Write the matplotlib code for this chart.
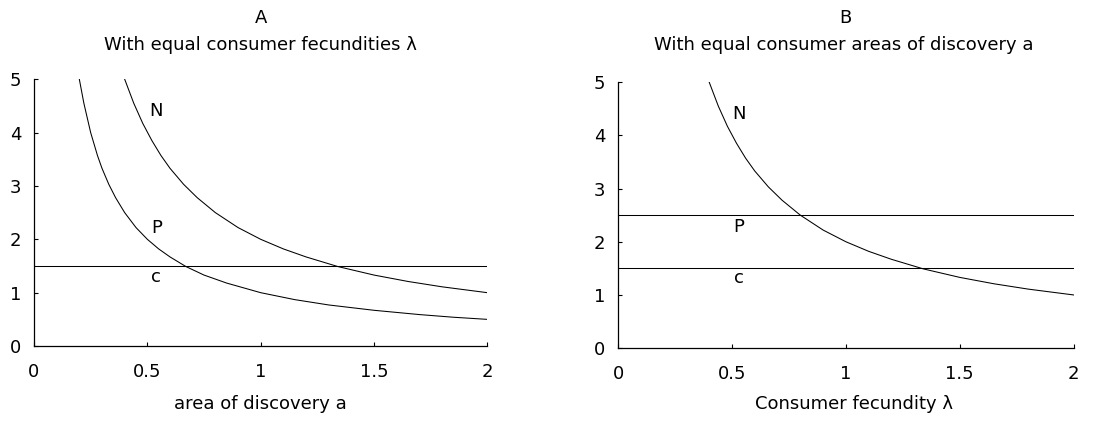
import matplotlib
matplotlib.use("Agg")
import matplotlib.pyplot as plt

plt.rcParams['font.family'] = ['DejaVu Sans']

# Panel A: values (x = area of discovery a)
a_vals = [0.20, 0.22, 0.25, 0.28, 0.30, 0.33, 0.36, 0.40, 0.45, 0.50, 0.55, 0.60, 0.67, 0.75,
          0.85, 1.00, 1.15, 1.30, 1.50, 1.70, 1.85, 2.00]
P_a = [5.00, 4.55, 4.00, 3.57, 3.33, 3.03, 2.78, 2.50, 2.22, 2.00, 1.82, 1.67, 1.49, 1.33,
       1.18, 1.00, 0.87, 0.77, 0.67, 0.59, 0.54, 0.50]
N_a_x = [0.40, 0.44, 0.48, 0.52, 0.56, 0.60, 0.66, 0.72, 0.80, 0.90, 1.00, 1.10, 1.20, 1.34,
         1.50, 1.65, 1.80, 2.00]
N_a = [5.00, 4.55, 4.17, 3.85, 3.57, 3.33, 3.03, 2.78, 2.50, 2.22, 2.00, 1.82, 1.67, 1.49,
       1.33, 1.21, 1.11, 1.00]
c_a = 1.5

# Panel B: x = consumer fecundity lambda
l_vals = [0.40, 0.44, 0.48, 0.52, 0.56, 0.60, 0.66, 0.72, 0.80, 0.90, 1.00, 1.10, 1.20, 1.34,
          1.50, 1.65, 1.80, 2.00]
N_b = [5.00, 4.55, 4.17, 3.85, 3.57, 3.33, 3.03, 2.78, 2.50, 2.22, 2.00, 1.82, 1.67, 1.49,
       1.33, 1.21, 1.11, 1.00]
P_b = 2.5
c_b = 1.5

xticks = [0, 0.5, 1, 1.5, 2]
xticklabels = ['0', '0.5', '1', '1.5', '2']
yticks = [0, 1, 2, 3, 4, 5]

fs = 13
fig = plt.figure(figsize=(11.14, 4.21), dpi=100)
axA = fig.add_axes([0.0305, 0.178, 0.407, 0.634])
axB = fig.add_axes([0.5548, 0.173, 0.409, 0.632])


def style(ax):
    ax.set_xlim(0, 2)
    ax.set_ylim(0, 5)
    ax.spines['top'].set_visible(False)
    ax.spines['right'].set_visible(False)
    ax.spines['left'].set_linewidth(0.9)
    ax.spines['bottom'].set_linewidth(0.9)
    ax.set_xticks(xticks)
    ax.set_xticklabels(xticklabels)
    ax.set_yticks(yticks)
    ax.tick_params(direction='in', length=3, width=0.8, labelsize=fs)
    ax.tick_params(axis='x', pad=12)
    ax.tick_params(axis='y', pad=9)


# Panel A
axA.plot(a_vals, P_a, color='black', lw=0.75)
axA.plot(N_a_x, N_a, color='black', lw=0.75)
axA.axhline(c_a, color='black', lw=0.75)
axA.text(0.54, 4.4, 'N', fontsize=fs, ha='center', va='center')
axA.text(0.54, 2.22, 'P', fontsize=fs, ha='center', va='center')
axA.text(0.54, 1.3, 'c', fontsize=fs, ha='center', va='center')
style(axA)

# Panel B
axB.plot(l_vals, N_b, color='black', lw=0.75)
axB.axhline(P_b, color='black', lw=0.75)
axB.axhline(c_b, color='black', lw=0.75)
axB.text(0.53, 4.4, 'N', fontsize=fs, ha='center', va='center')
axB.text(0.53, 2.28, 'P', fontsize=fs, ha='center', va='center')
axB.text(0.53, 1.32, 'c', fontsize=fs, ha='center', va='center')
style(axB)

# Titles and axis labels
fig.text(0.234, 0.957, 'A', fontsize=fs, ha='center', va='center')
fig.text(0.234, 0.893, 'With equal consumer fecundities λ', fontsize=fs, ha='center', va='center')
fig.text(0.234, 0.040, 'area of discovery a', fontsize=fs, ha='center', va='center')
fig.text(0.759, 0.957, 'B', fontsize=fs, ha='center', va='center')
fig.text(0.757, 0.893, 'With equal consumer areas of discovery a', fontsize=fs, ha='center', va='center')
fig.text(0.767, 0.040, 'Consumer fecundity λ', fontsize=fs, ha='center', va='center')

fig.savefig('out.png', dpi=100)
